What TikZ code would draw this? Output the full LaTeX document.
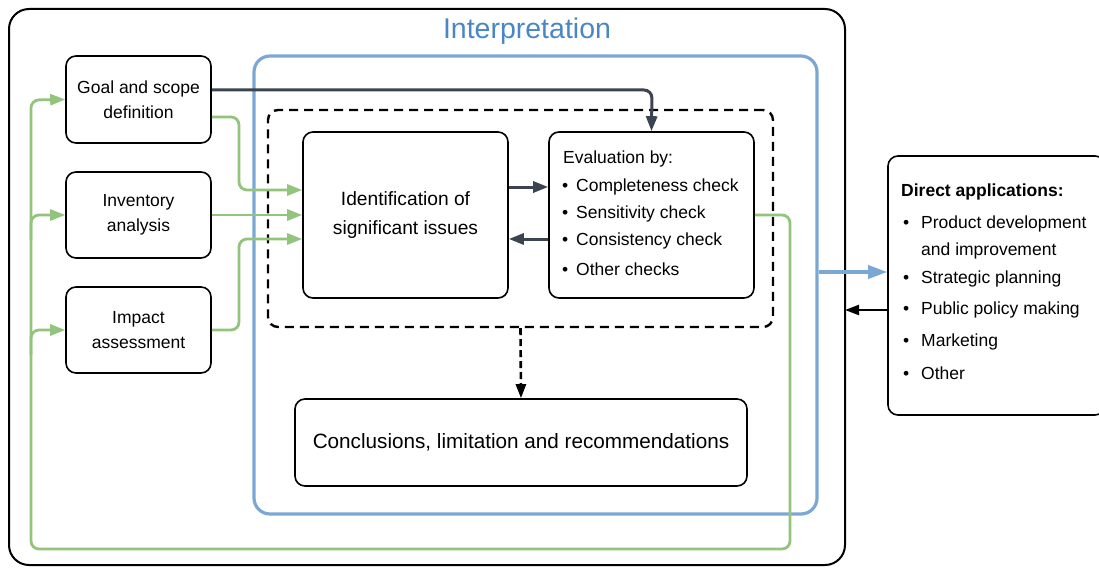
\documentclass[tikz,border=0pt]{standalone}
\usepackage{fontspec}
\setmainfont{Liberation Sans}
\usetikzlibrary{arrows.meta,positioning}
\definecolor{bluebox}{HTML}{7BA7D4}
\definecolor{bluetitle}{HTML}{4A86C5}
\definecolor{greenl}{HTML}{93C47D}
\definecolor{darkl}{HTML}{3D4451}
\newcommand{\evb}{\makebox[14pt][l]{\textbullet}}
\newcommand{\apb}{\makebox[18pt][l]{\textbullet}}
\tikzset{
  box/.style={draw=black, line width=1.6pt, rounded corners=10pt, fill=white, align=center, inner sep=0pt},
  txt/.style={inner sep=0pt, font=\fontsize{17.5}{20}\selectfont},
  gline/.style={draw=greenl, line width=2.8pt, rounded corners=8pt},
  garrow/.style={gline, -{Triangle[length=15pt,width=11pt]}},
  darrow/.style={draw=darkl, line width=3pt, rounded corners=8pt, -{Triangle[length=15pt,width=11pt]}},
}
\begin{document}
\begin{tikzpicture}[x=1pt,y=-1pt]
\useasboundingbox (0,0) rectangle (1099,567);
% outer box
\draw[line width=2pt, rounded corners=20pt] (9,9) rectangle (845,565);
\node[font=\fontsize{28.5}{32}\selectfont, text=bluetitle, inner sep=0pt] (title) at (527,31) {Interpretation};
% interpretation box
\node[draw=bluebox, line width=3.2pt, rounded corners=16pt, minimum width=563pt, minimum height=458pt, inner sep=0pt] (interp) at (535.5,285) {};
% dashed box
\node[draw=black, line width=2.4pt, dash pattern=on 9pt off 6pt, rounded corners=10pt, minimum width=505pt, minimum height=217pt, inner sep=0pt] (dbox) at (520.5,218.5) {};
% left boxes
\node[box, minimum width=145pt, minimum height=87pt, font=\fontsize{17.5}{25}\selectfont] (goal) at (138.5,99.5) {Goal and scope\\definition};
\node[box, minimum width=145pt, minimum height=86pt, font=\fontsize{17.5}{25}\selectfont] (inv) at (138.5,215) {Inventory\\analysis};
\node[box, minimum width=145pt, minimum height=86pt, font=\fontsize{17.5}{25}\selectfont] (imp) at (138.5,330) {Impact\\assessment};
% inner boxes
\node[box, minimum width=205pt, minimum height=166pt, font=\fontsize{19.2}{29}\selectfont] (ident) at (405.5,215) {Identification of\\significant issues};
\node[box, minimum width=205pt, minimum height=166pt] (eval) at (651.5,215) {};
\node[txt, anchor=west] (ev0) at (563,159) {Evaluation by:};
\node[txt, anchor=west] (ev1) at (562,187) {\evb Completeness check};
\node[txt, anchor=west] (ev2) at (562,214) {\evb Sensitivity check};
\node[txt, anchor=west] (ev3) at (562,241) {\evb Consistency check};
\node[txt, anchor=west] (ev4) at (562,269) {\evb Other checks};
\node[box, minimum width=452pt, minimum height=87pt, font=\fontsize{20.7}{24}\selectfont] (conc) at (521,442.5) {Conclusions, limitation and recommendations};
% direct applications
\node[box, minimum width=217pt, minimum height=259pt] (apps) at (996.5,285.5) {};
\node[txt, anchor=west, font=\fontsize{17.5}{20}\selectfont\bfseries] (ap0) at (901,192) {Direct applications:};
\node[txt, anchor=west] (ap1) at (903,224) {\apb Product development};
\node[txt, anchor=west] (ap1b) at (921,251) {and improvement};
\node[txt, anchor=west] (ap2) at (903,279) {\apb Strategic planning};
\node[txt, anchor=west] (ap3) at (903,310) {\apb Public policy making};
\node[txt, anchor=west] (ap4) at (903,342) {\apb Marketing};
\node[txt, anchor=west] (ap5) at (903,373) {\apb Other};
% green feedback loop
\coordinate (gr) at (790,549);
\draw[garrow] (eval.east) -- (790,215) -- (gr) -- (31,549) -- (31,100) -- (goal.west);
\draw[garrow] (31,240) |- (inv.west);
\draw[garrow] (31,355) |- (imp.west);
% green inputs
\draw[garrow] ([shift={(0,17.5)}]goal.east) -- (239,117) -- (239,190) -- ([shift={(0,-25)}]ident.west);
\draw[garrow] (inv.east) -- (ident.west);
\draw[garrow] (imp.east) -- (239,330) -- (239,239) -- ([shift={(0,24)}]ident.west);
% dark arrows
\draw[darrow] ([shift={(0,-9.5)}]goal.east) -- (652,90) -- (eval.north);
\draw[darrow] ([shift={(0,-28)}]ident.east) -- ([shift={(0,-28)}]eval.west);
\draw[darrow] ([shift={(0,24)}]eval.west) -- ([shift={(0,24)}]ident.east);
% dashed arrow
\draw[line width=2.6pt, dash pattern=on 7pt off 4pt, -{Triangle[length=14pt,width=10pt]}] (dbox.south) -- (conc.north);
% blue out arrow
\draw[draw=bluebox, line width=3.4pt, -{Triangle[length=19pt,width=13pt]}] ([shift={(0,-13)}]interp.east) -- ([shift={(0,-13.5)}]apps.west);
% black back arrow
\draw[line width=2.2pt, -{Triangle[length=14pt,width=10pt]}] ([shift={(0,24.5)}]apps.west) -- (845,310);
\end{tikzpicture}
\end{document}
